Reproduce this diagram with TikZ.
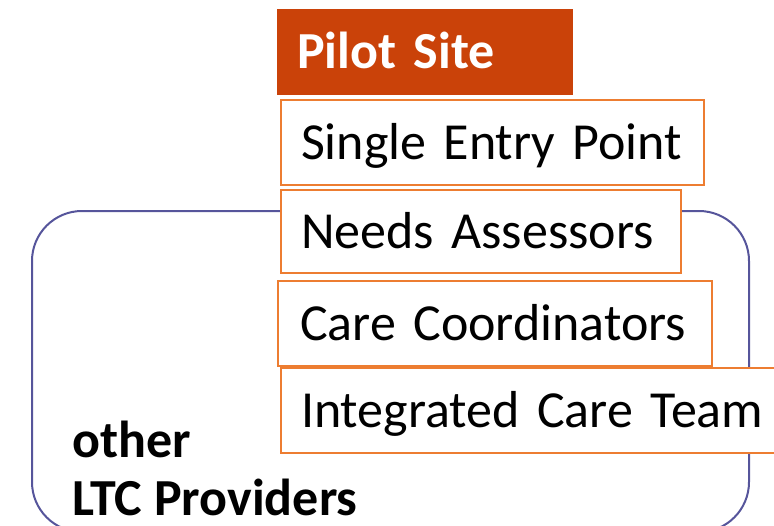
\documentclass[tikz,border=0pt]{standalone}
\usepackage{fontspec}
\setmainfont{Carlito}
\definecolor{pilotred}{HTML}{CA4209}
\definecolor{boxorange}{HTML}{ED7D31}
\definecolor{framepurple}{HTML}{56559B}
\begin{document}
\begin{tikzpicture}[x=1pt,y=-1pt,
  lbl/.style={font=\fontsize{52}{62}\selectfont, text height=33pt, text depth=0pt, inner xsep=20pt, inner ysep=0pt, align=left, anchor=north west},
  stepbox/.style={lbl, draw=boxorange, line width=2pt, fill=white},
  pilot/.style={lbl, fill=pilotred, text=white, font=\fontsize{52}{62}\selectfont\bfseries}
]
\useasboundingbox (0,0) rectangle (774,525);
\clip (0,0) rectangle (774,525);
\draw[framepurple, line width=2pt, rounded corners=50pt] (32,211) rectangle (749,532);
\node[pilot, text width=256pt, minimum height=86pt] (pilot) at (277,9) {Pilot Site};
\node[stepbox, text width=383pt, minimum height=85pt] (sep) at (280,99) {Single Entry Point};
\node[stepbox, text width=360pt, minimum height=83pt] (na) at (280,189) {Needs Assessors};
\node[stepbox, text width=390pt, minimum height=85pt, inner xsep=22pt] (cc) at (277,280) {Care Coordinators};
\node[stepbox, text width=500pt, minimum height=85pt] (ict) at (280,367) {Integrated Care Team};
\node[font=\fontsize{52}{58}\selectfont\bfseries, align=left, anchor=base west, inner sep=0pt] (ltc) at (72,515) {other\\LTC Providers};
\end{tikzpicture}
\end{document}
